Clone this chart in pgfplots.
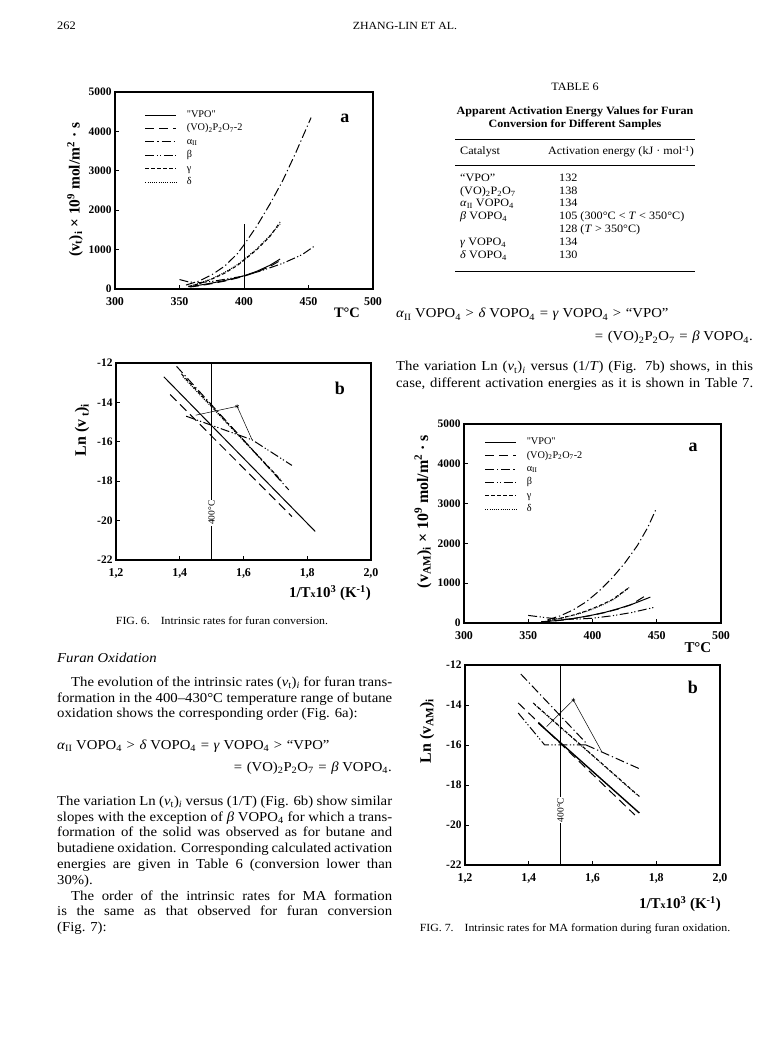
\documentclass[border=0pt]{standalone}
\usepackage{fontspec}
\setmainfont{Liberation Serif}
\newfontfamily\bodyfont{Liberation Serif}[Ligatures=TeX, FakeStretch=1.08]
\usepackage{pgfplots}
\pgfplotsset{compat=1.18}
\newcommand{\body}{\bodyfont\fontsize{13.7}{15.6}\selectfont}
\newcommand{\sm}{\bodyfont\fontsize{11.3}{12}\selectfont}
\newcommand{\rel}[1]{\hspace{0.34em}#1\hspace{0.34em}}
\tikzset{
 svpo/.style={black, line width=1bp, solid},
 svop/.style={black, line width=1bp, dash pattern=on 9bp off 5bp},
 salp/.style={black, line width=1bp, dash pattern=on 9bp off 3bp on 1.2bp off 3bp},
 sbet/.style={black, line width=1bp, dash pattern=on 9bp off 2.5bp on 1.2bp off 2bp on 1.2bp off 2.5bp},
 sgam/.style={black, line width=1bp, dash pattern=on 3.5bp off 2.5bp},
 sdel/.style={black, line width=1bp, dash pattern=on 0.9bp off 1.3bp},
}
\pgfplotsset{
 pagestyle/.style={
  scale only axis, anchor=south west,
  axis line style={line width=1.2bp, black},
  tick align=inside, xtick pos=left, ytick pos=left,
  major tick length=4bp, tick style={line width=0.8bp, black},
  y tick label style={font=\fontsize{11.5}{12}\selectfont\bfseries},
  x tick label style={font=\fontsize{12}{12}\selectfont\bfseries, yshift=-5bp},
  /pgf/number format/assume math mode=true,
  /pgf/number format/1000 sep={},
  label style={font=\fontsize{15.5}{16}\selectfont\bfseries},
  legend cell align=left,
  legend image code/.code={\draw[##1] (0bp,0bp) -- (31bp,0bp);},
 },
 pagelegend/.style={legend style={at={(axis description cs:#1)}, anchor=north west, draw=none, fill=none, inner sep=0pt, row sep=0.9bp, font=\fontsize{10.3}{11}\selectfont, nodes={inner sep=2bp, text height=6.5bp, text depth=2bp}, /tikz/every odd column/.append style={column sep=8bp}}},
 commax/.style={x tick label style={/pgf/number format/fixed, /pgf/number format/fixed zerofill, /pgf/number format/precision=1, /pgf/number format/use comma}},
}
\begin{document}
\begin{tikzpicture}
\path[fill=white,use as bounding box] (0,0) rectangle (780bp,1048bp);

% ---------------- Fig 6a
\begin{axis}[pagestyle, at={(115bp,759bp)}, width=258bp, height=197bp,
 xmin=300,xmax=500,ymin=0,ymax=5000,
 xtick={300,350,400,450,500}, ytick={0,1000,2000,3000,4000,5000},
 xlabel={T°C}, xlabel style={at={(axis description cs:0.899,-0.122)}, anchor=center, font=\fontsize{14.5}{15}\selectfont\bfseries},
 ylabel={(v\textsubscript{t})\textsubscript{i} × 10\textsuperscript{9} mol/m\textsuperscript{2} · s},
 ylabel style={at={(axis description cs:-0.155,0.503)}, anchor=center},
 pagelegend={0.115,0.915}]
\addplot[svpo] coordinates {(357,60) (365,95) (375,150) (385,215) (395,290) (400,335) (410,450) (420,600) (428,760)};
\addlegendentry{\textquotedbl VPO\textquotedbl}
\addplot[svop] coordinates {(358,50) (365,80) (375,135) (385,200) (395,280) (400,325) (410,430) (420,570) (428,720)};
\addlegendentry{(VO)\textsubscript{2}P\textsubscript{2}O\textsubscript{7}-2}
\addplot[salp] coordinates {(355,100) (365,200) (375,360) (385,580) (395,900) (400,1120) (410,1600) (420,2150) (430,2750) (440,3450) (452,4350)};
\addlegendentry{α\textsubscript{II}}
\addplot[sbet] coordinates {(350,240) (357,180) (365,160) (375,190) (385,245) (400,330) (415,480) (430,650) (445,870) (454,1075)};
\addlegendentry{β}
\addplot[sgam] coordinates {(357,60) (365,130) (375,250) (385,400) (395,600) (400,730) (410,1000) (420,1330) (428,1700)};
\addlegendentry{γ}
\addplot[sdel] coordinates {(357,70) (365,140) (375,260) (385,420) (395,620) (400,750) (410,1020) (420,1350) (428,1650)};
\addlegendentry{δ}
\addplot[black, line width=0.7bp, forget plot] coordinates {(400,0) (400,1650)};
\node[font=\fontsize{18}{18}\selectfont\bfseries] at (axis description cs:0.891,0.868) {a};
\end{axis}

% ---------------- Fig 6b
\begin{axis}[pagestyle, commax, at={(116bp,488bp)}, width=255bp, height=197bp,
 xmin=1.2,xmax=2.0,ymin=-22,ymax=-12,
 xtick={1.2,1.4,1.6,1.8,2.0}, ytick={-22,-20,-18,-16,-14,-12},
 xlabel={1/T{\fontsize{10}{10}\selectfont x}10\textsuperscript{3} (K\textsuperscript{-1})},
 xlabel style={at={(axis description cs:0.839,-0.168)}, anchor=center, font=\fontsize{15}{15}\selectfont\bfseries},
 ylabel={Ln (v\,\textsubscript{t})\textsubscript{i}},
 ylabel style={at={(axis description cs:-0.133,0.66)}, anchor=center, font=\fontsize{16}{16}\selectfont\bfseries}]
\addplot[svpo] coordinates {(1.35,-12.7) (1.825,-20.55)};
\addplot[svop] coordinates {(1.37,-13.6) (1.752,-19.8)};
\addplot[salp] coordinates {(1.39,-12.17) (1.742,-18.44)};
\addplot[sgam] coordinates {(1.405,-12.55) (1.715,-17.9)};
\addplot[sdel] coordinates {(1.41,-12.7) (1.72,-18.0)};
\addplot[sbet] coordinates {(1.42,-14.7) (1.627,-15.9) (1.752,-17.2)};
\addplot[black, line width=0.5bp] coordinates {(1.45,-14.65) (1.58,-14.2) (1.627,-15.9)};
\addplot[only marks, mark=asterisk, mark size=2bp, black] coordinates {(1.58,-14.2)};
\addplot[black, line width=0.7bp] coordinates {(1.5,-22) (1.5,-12)};
\node[rotate=90, fill=white, inner sep=1bp, font=\fontsize{9.5}{10}\selectfont] at (axis cs:1.5,-19.6) {400°C};
\node[font=\fontsize{18}{18}\selectfont\bfseries] at (axis description cs:0.878,0.873) {b};
\end{axis}

% ---------------- Fig 7a
\begin{axis}[pagestyle, at={(464bp,425bp)}, width=257bp, height=199bp,
 xmin=300,xmax=500,ymin=0,ymax=5000,
 xtick={300,350,400,450,500}, ytick={0,1000,2000,3000,4000,5000},
 xlabel={T°C}, xlabel style={at={(axis description cs:0.91,-0.126)}, anchor=center, font=\fontsize{15}{15}\selectfont\bfseries},
 ylabel={(v\textsubscript{AM})\textsubscript{i} × 10\textsuperscript{9} mol/m\textsuperscript{2} · s},
 ylabel style={at={(axis description cs:-0.16,0.56)}, anchor=center, font=\fontsize{16}{16}\selectfont\bfseries},
 pagelegend={0.08,0.94}]
\addplot[svpo] coordinates {(360,30) (370,55) (380,90) (390,140) (400,200) (410,270) (420,360) (430,460) (445,650)};
\addlegendentry{\textquotedbl VPO\textquotedbl}
\addplot[svop] coordinates {(360,25) (370,50) (380,85) (390,135) (400,195) (410,265) (420,350) (430,460) (443,720)};
\addlegendentry{(VO)\textsubscript{2}P\textsubscript{2}O\textsubscript{7}-2}
\addplot[salp] coordinates {(365,80) (375,180) (385,330) (395,530) (405,800) (415,1120) (425,1500) (435,1950) (443,2400) (450,2900)};
\addlegendentry{α\textsubscript{II}}
\addplot[sbet] coordinates {(350,190) (360,150) (370,110) (380,95) (390,100) (400,120) (415,180) (430,260) (449,400)};
\addlegendentry{β}
\addplot[sgam] coordinates {(365,60) (375,120) (385,200) (395,300) (405,430) (415,580) (428,880)};
\addlegendentry{γ}
\addplot[sdel] coordinates {(367,70) (377,130) (387,210) (397,310) (407,440) (417,600) (429,900)};
\addlegendentry{δ}
\node[font=\fontsize{18}{18}\selectfont\bfseries] at (axis description cs:0.891,0.884) {a};
\end{axis}

% ---------------- Fig 7b
\begin{axis}[pagestyle, commax, at={(465bp,183bp)}, width=255bp, height=200bp,
 xmin=1.2,xmax=2.0,ymin=-22,ymax=-12,
 xtick={1.2,1.4,1.6,1.8,2.0}, ytick={-22,-20,-18,-16,-14,-12},
 xlabel={1/T{\fontsize{10}{10}\selectfont x}10\textsuperscript{3} (K\textsuperscript{-1})},
 xlabel style={at={(axis description cs:0.843,-0.195)}, anchor=center, font=\fontsize{15}{15}\selectfont\bfseries},
 ylabel={Ln (v\textsubscript{AM})\textsubscript{i}},
 ylabel style={at={(axis description cs:-0.149,0.67)}, anchor=center, font=\fontsize{16}{16}\selectfont\bfseries}]
\addplot[svpo, line width=1.4bp] coordinates {(1.43,-14.9) (1.747,-19.4)};
\addplot[svop] coordinates {(1.367,-13.9) (1.733,-19.5)};
\addplot[salp] coordinates {(1.375,-12.45) (1.58,-15.9)};
\addplot[salp] coordinates {(1.58,-16.0) (1.749,-17.2)};
\addplot[sgam] coordinates {(1.414,-13.9) (1.749,-18.6)};
\addplot[sdel] coordinates {(1.42,-14.0) (1.74,-18.5)};
\addplot[sbet] coordinates {(1.367,-14.4) (1.45,-16.0) (1.58,-16.0)};
\addplot[black, line width=0.5bp] coordinates {(1.456,-15.08) (1.54,-13.75) (1.629,-16.33)};
\addplot[only marks, mark=asterisk, mark size=2bp, black] coordinates {(1.54,-13.75)};
\addplot[black, line width=0.7bp] coordinates {(1.5,-22) (1.5,-12)};
\node[rotate=90, fill=white, inner sep=1bp, font=\fontsize{9.5}{10}\selectfont] at (axis cs:1.5,-19.25) {400°C};
\node[font=\fontsize{18}{18}\selectfont\bfseries] at (axis description cs:0.894,0.89) {b};
\end{axis}

% ---------------- text
\begin{scope}[x=1bp,y=1bp, every node/.style={inner sep=0pt, font=\body, text height=9bp, text depth=3bp}]
\node[anchor=west, font=\bodyfont\fontsize{11.5}{12}\selectfont] at (57,1048-27) {262};
\node[font=\bodyfont\fontsize{11}{12}\selectfont] at (405,1048-27) {ZHANG-LIN ET AL.};
% table
\node[font=\sm] at (575,1048-88) {TABLE 6};
\node[font=\bodyfont\fontsize{11.2}{12}\selectfont\bfseries] at (575,1048-112) {Apparent Activation Energy Values for Furan};
\node[font=\bodyfont\fontsize{11.2}{12}\selectfont\bfseries] at (575,1048-125) {Conversion for Different Samples};
\draw[line width=0.8bp] (455,1048-139) -- (695,1048-139);
\draw[line width=0.5bp] (455,1048-165) -- (695,1048-165);
\draw[line width=0.8bp] (455,1048-271) -- (695,1048-271);
\node[anchor=west, font=\sm] at (460,1048-152) {Catalyst};
\node[anchor=west, font=\sm] at (548,1048-152) {Activation energy (kJ · mol\textsuperscript{-1})};
\node[anchor=west, font=\sm] at (460,1048-179) {“VPO”};
\node[anchor=west, font=\sm] at (559,1048-179) {132};
\node[anchor=west, font=\sm] at (460,1048-191.5) {(VO)\textsubscript{2}P\textsubscript{2}O\textsubscript{7}};
\node[anchor=west, font=\sm] at (559,1048-191.5) {138};
\node[anchor=west, font=\sm] at (460,1048-204) {\textit{α}\textsubscript{II} VOPO\textsubscript{4}};
\node[anchor=west, font=\sm] at (559,1048-204) {134};
\node[anchor=west, font=\sm] at (460,1048-217) {\textit{β} VOPO\textsubscript{4}};
\node[anchor=west, font=\sm] at (559,1048-217) {105 (300°C < \textit{T} < 350°C)};
\node[anchor=west, font=\sm] at (559,1048-230) {128 (\textit{T} > 350°C)};
\node[anchor=west, font=\sm] at (460,1048-243) {\textit{γ} VOPO\textsubscript{4}};
\node[anchor=west, font=\sm] at (559,1048-243) {134};
\node[anchor=west, font=\sm] at (460,1048-256) {\textit{δ} VOPO\textsubscript{4}};
\node[anchor=west, font=\sm] at (559,1048-256) {130};
% right column
\node[anchor=west] at (396,1048-315) {\textit{α}\textsubscript{II} VOPO\textsubscript{4}\rel{>}\textit{δ} VOPO\textsubscript{4}\rel{=}\textit{γ} VOPO\textsubscript{4}\rel{>}“VPO”};
\node[anchor=east] at (753,1048-338) {=\hspace{0.34em}(VO)\textsubscript{2}P\textsubscript{2}O\textsubscript{7}\rel{=}\textit{β} VOPO\textsubscript{4}.};
\node[anchor=west] at (396,1048-368) {\makebox[357bp][s]{The variation Ln (\textit{v}\textsubscript{t})\textsubscript{\textit{i}} versus (1/\textit{T}) (Fig. 7b) shows, in this}};
\node[anchor=west] at (396,1048-385) {\makebox[357bp][s]{case, different activation energies as it is shown in Table 7.}};
% captions
\node[font=\bodyfont\fontsize{11}{12}\selectfont] at (222,1048-622) {FIG. 6.\quad Intrinsic rates for furan conversion.};
\node[font=\bodyfont\fontsize{11}{12}\selectfont] at (575,1048-928) {FIG. 7.\quad Intrinsic rates for MA formation during furan oxidation.};
% left column
\node[anchor=west] at (57,1048-659) {\textit{Furan Oxidation}};
\node[anchor=west] at (71,1048-683) {\makebox[321bp][s]{The evolution of the intrinsic rates (\textit{v}\textsubscript{t})\textsubscript{\textit{i}} for furan trans-}};
\node[anchor=west] at (57,1048-699) {\makebox[335bp][s]{formation in the 400–430°C temperature range of butane}};
\node[anchor=west] at (57,1048-714) {oxidation shows the corresponding order (Fig. 6a):};
\node[anchor=west] at (57,1048-746) {\textit{α}\textsubscript{II} VOPO\textsubscript{4}\rel{>}\textit{δ} VOPO\textsubscript{4}\rel{=}\textit{γ} VOPO\textsubscript{4}\rel{>}“VPO”};
\node[anchor=east] at (392,1048-768) {=\hspace{0.34em}(VO)\textsubscript{2}P\textsubscript{2}O\textsubscript{7}\rel{=}\textit{β} VOPO\textsubscript{4}.};
\node[anchor=west] at (57,1048-802) {\makebox[335bp][s]{The variation Ln (\textit{v}\textsubscript{t})\textsubscript{\textit{i}} versus (1/T) (Fig. 6b) show similar}};
\node[anchor=west] at (57,1048-818) {\makebox[335bp][s]{slopes with the exception of \textit{β} VOPO\textsubscript{4} for which a trans-}};
\node[anchor=west] at (57,1048-833) {\makebox[335bp][s]{formation of the solid was observed as for butane and}};
\node[anchor=west] at (57,1048-849) {\makebox[335bp][s]{butadiene oxidation. Corresponding calculated activation}};
\node[anchor=west] at (57,1048-865) {\makebox[335bp][s]{energies are given in Table 6 (conversion lower than}};
\node[anchor=west] at (57,1048-881) {30\%).};
\node[anchor=west] at (71,1048-897) {\makebox[321bp][s]{The order of the intrinsic rates for MA formation}};
\node[anchor=west] at (57,1048-912) {\makebox[335bp][s]{is the same as that observed for furan conversion}};
\node[anchor=west] at (57,1048-928) {(Fig. 7):};
\end{scope}
\end{tikzpicture}
\end{document}
